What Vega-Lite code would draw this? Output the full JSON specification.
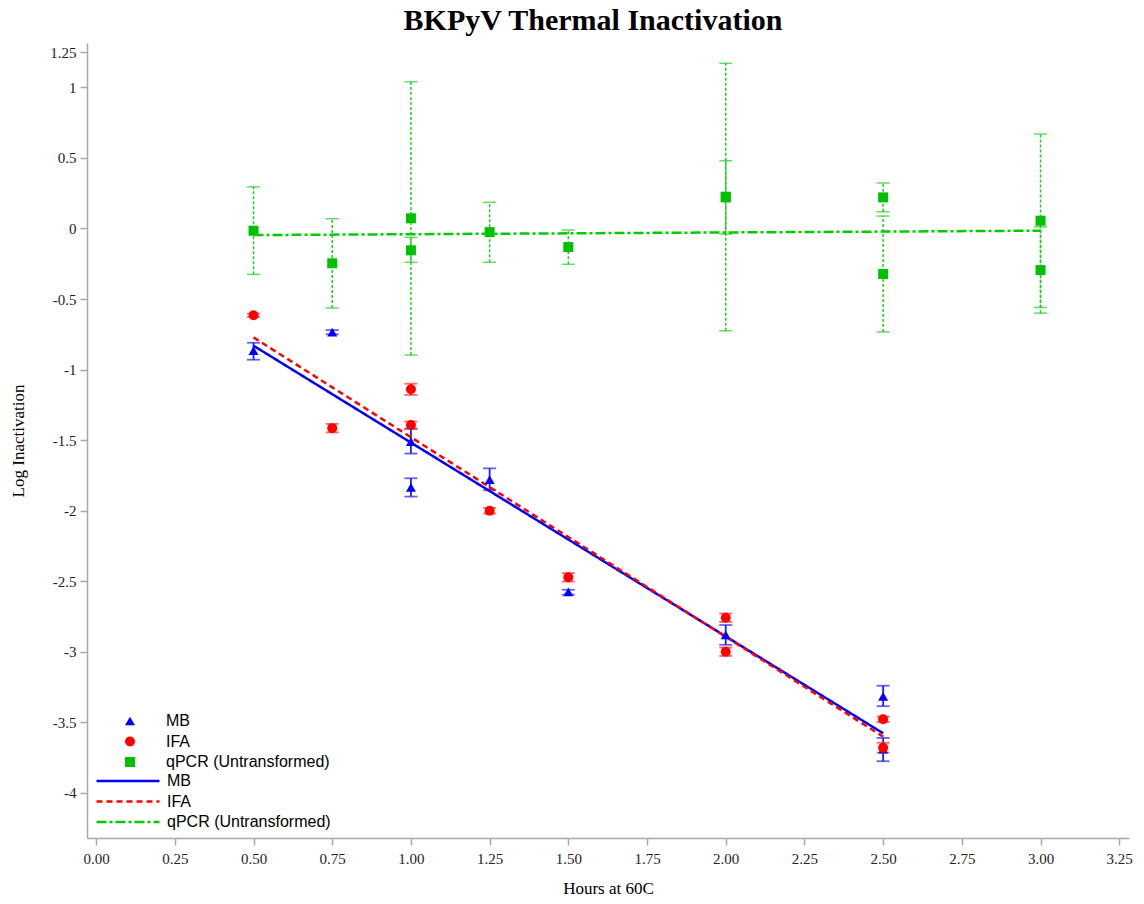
{
  "$schema": "https://vega.github.io/schema/vega-lite/v6.json",
  "width": 1042,
  "height": 795,
  "autosize": {"type": "none"},
  "padding": {"left": 87, "top": 43, "right": 15, "bottom": 66},
  "background": "white",
  "title": {"text": "BKPyV Thermal Inactivation", "font": "Liberation Serif", "fontSize": 30, "fontWeight": "bold", "color": "#000000", "anchor": "middle", "offset": 7, "dx": -15},
  "config": {
    "view": {"stroke": null},
    "axis": {"grid": false, "domainColor": "#a8a8a8", "domainWidth": 1.5, "tickColor": "#a8a8a8", "tickWidth": 1.5, "tickSize": 7, "labelFont": "Liberation Serif", "labelFontSize": 15, "labelColor": "#222222", "titleFont": "Liberation Serif", "titleFontSize": 17, "titleFontWeight": "normal", "titleColor": "#000000"}
  },
  "datasets": {
    "obs": [
      {"series": "MB", "x": 0.5, "y": -0.866, "lo": -0.93, "hi": -0.81},
      {"series": "MB", "x": 0.75, "y": -0.735, "lo": -0.75, "hi": -0.72},
      {"series": "MB", "x": 1.0, "y": -1.51, "lo": -1.595, "hi": -1.42},
      {"series": "MB", "x": 1.0, "y": -1.835, "lo": -1.9, "hi": -1.77},
      {"series": "MB", "x": 1.25, "y": -1.78, "lo": -1.855, "hi": -1.7},
      {"series": "MB", "x": 1.5, "y": -2.575, "lo": -2.595, "hi": -2.56},
      {"series": "MB", "x": 2.0, "y": -2.88, "lo": -2.95, "hi": -2.81},
      {"series": "MB", "x": 2.5, "y": -3.315, "lo": -3.385, "hi": -3.24},
      {"series": "MB", "x": 2.5, "y": -3.69, "lo": -3.775, "hi": -3.61},
      {"series": "IFA", "x": 0.5, "y": -0.615, "lo": -0.627, "hi": -0.603},
      {"series": "IFA", "x": 0.75, "y": -1.415, "lo": -1.445, "hi": -1.385},
      {"series": "IFA", "x": 1.0, "y": -1.14, "lo": -1.18, "hi": -1.1},
      {"series": "IFA", "x": 1.0, "y": -1.393, "lo": -1.418, "hi": -1.368},
      {"series": "IFA", "x": 1.25, "y": -2.0, "lo": -2.02, "hi": -1.98},
      {"series": "IFA", "x": 1.5, "y": -2.472, "lo": -2.502, "hi": -2.442},
      {"series": "IFA", "x": 2.0, "y": -2.758, "lo": -2.788, "hi": -2.728},
      {"series": "IFA", "x": 2.0, "y": -2.999, "lo": -3.029, "hi": -2.969},
      {"series": "IFA", "x": 2.5, "y": -3.478, "lo": -3.498, "hi": -3.458},
      {"series": "IFA", "x": 2.5, "y": -3.679, "lo": -3.714, "hi": -3.644},
      {"series": "qPCR (Untransformed)", "x": 0.5, "y": -0.016, "lo": -0.325, "hi": 0.295},
      {"series": "qPCR (Untransformed)", "x": 0.75, "y": -0.247, "lo": -0.564, "hi": 0.069},
      {"series": "qPCR (Untransformed)", "x": 1.0, "y": 0.072, "lo": -0.897, "hi": 1.04},
      {"series": "qPCR (Untransformed)", "x": 1.0, "y": -0.155, "lo": -0.24, "hi": -0.063},
      {"series": "qPCR (Untransformed)", "x": 1.25, "y": -0.026, "lo": -0.24, "hi": 0.185},
      {"series": "qPCR (Untransformed)", "x": 1.5, "y": -0.132, "lo": -0.254, "hi": -0.011},
      {"series": "qPCR (Untransformed)", "x": 2.0, "y": 0.225, "lo": -0.725, "hi": 1.17},
      {"series": "qPCR (Untransformed)", "x": 2.0, "y": 0.22, "lo": -0.04, "hi": 0.48},
      {"series": "qPCR (Untransformed)", "x": 2.5, "y": 0.22, "lo": 0.118, "hi": 0.322},
      {"series": "qPCR (Untransformed)", "x": 2.5, "y": -0.323, "lo": -0.733, "hi": 0.088},
      {"series": "qPCR (Untransformed)", "x": 3.0, "y": 0.055, "lo": -0.56, "hi": 0.669},
      {"series": "qPCR (Untransformed)", "x": 3.0, "y": -0.295, "lo": -0.6, "hi": 0.012}
    ],
    "fits": [
      {"series": "MB", "x": 0.5, "y": -0.831},
      {"series": "MB", "x": 2.5, "y": -3.577},
      {"series": "IFA", "x": 0.5, "y": -0.772},
      {"series": "IFA", "x": 2.5, "y": -3.601},
      {"series": "qPCR (Untransformed)", "x": 0.5, "y": -0.047},
      {"series": "qPCR (Untransformed)", "x": 3.0, "y": -0.016}
    ]
  },
  "encoding": {
    "x": {"field": "x", "type": "quantitative", "title": "Hours at 60C",
      "scale": {"domain": [-0.029, 3.281], "nice": false, "zero": false},
      "axis": {"values": [0, 0.25, 0.5, 0.75, 1, 1.25, 1.5, 1.75, 2, 2.25, 2.5, 2.75, 3, 3.25], "format": ".2f", "labelPadding": 6, "titlePadding": 14}},
    "y": {"field": "y", "type": "quantitative", "title": "Log Inactivation",
      "scale": {"domain": [-4.319, 1.314], "nice": false, "zero": false},
      "axis": {"values": [-4, -3.5, -3, -2.5, -2, -1.5, -1, -0.5, 0, 0.5, 1, 1.25], "labelExpr": "replace(format(datum.value, '~g'), '\u2212', '-')", "labelPadding": 4, "titlePadding": 22}}
  },
  "layer": [
    {
      "data": {"name": "obs"},
      "transform": [{"filter": "datum.series === 'qPCR (Untransformed)'"}],
      "mark": {"type": "errorbar", "color": "#22cc22", "ticks": {"size": 13, "thickness": 1.5, "color": "#22cc22"}, "rule": {"strokeDash": [3, 2], "strokeWidth": 1.5, "color": "#22cc22"}},
      "encoding": {"y": {"field": "lo", "type": "quantitative"}, "y2": {"field": "hi"}}
    },
    {
      "data": {"name": "obs"},
      "transform": [{"filter": "datum.series === 'MB'"}],
      "mark": {"type": "errorbar", "color": "#1f1fff", "ticks": {"size": 13, "thickness": 1.8, "color": "#1f1fff"}, "rule": {"strokeWidth": 1.8, "color": "#1f1fff"}},
      "encoding": {"y": {"field": "lo", "type": "quantitative"}, "y2": {"field": "hi"}}
    },
    {
      "data": {"name": "obs"},
      "transform": [{"filter": "datum.series === 'IFA'"}],
      "mark": {"type": "errorbar", "color": "#ff2a2a", "ticks": {"size": 13, "thickness": 1.8, "color": "#ff2a2a"}, "rule": {"strokeWidth": 1.8, "color": "#ff2a2a"}},
      "encoding": {"y": {"field": "lo", "type": "quantitative"}, "y2": {"field": "hi"}}
    },
    {
      "data": {"name": "fits"},
      "mark": {"type": "line", "strokeWidth": 2.5},
      "encoding": {
        "color": {"field": "series", "type": "nominal",
          "scale": {"domain": ["MB", "IFA", "qPCR (Untransformed)"], "range": ["#0000ff", "#ff0000", "#00cc00"]},
          "legend": {"orient": "none", "legendX": 8, "legendY": 730, "title": null, "padding": 0, "labelFont": "Liberation Sans", "labelFontSize": 16, "labelColor": "#000000", "labelLimit": 0, "symbolSize": 3969, "symbolStrokeWidth": 2.5, "clipHeight": 16, "rowPadding": 4.5, "labelOffset": 6}},
        "strokeDash": {"field": "series", "type": "nominal",
          "scale": {"domain": ["MB", "IFA", "qPCR (Untransformed)"], "range": [[1, 0], [6, 4], [10, 3, 3, 3]]},
          "legend": {"orient": "none", "legendX": 8, "legendY": 730, "title": null, "padding": 0, "labelFont": "Liberation Sans", "labelFontSize": 16, "labelColor": "#000000", "labelLimit": 0, "symbolSize": 3969, "symbolStrokeWidth": 2.5, "clipHeight": 16, "rowPadding": 4.5, "labelOffset": 6}}
      }
    },
    {
      "data": {"name": "obs"},
      "mark": {"type": "point", "filled": true, "opacity": 1, "size": 100},
      "encoding": {
        "color": {"field": "series", "type": "nominal",
          "scale": {"domain": ["MB", "IFA", "qPCR (Untransformed)"], "range": ["#0000ff", "#ff0000", "#00c000"]},
          "legend": {"orient": "none", "legendX": 35, "legendY": 670, "title": null, "padding": 0, "labelFont": "Liberation Sans", "labelFontSize": 16, "labelColor": "#000000", "labelLimit": 0, "symbolSize": 100, "symbolOpacity": 1, "clipHeight": 16, "rowPadding": 4.5, "labelOffset": 28}},
        "shape": {"field": "series", "type": "nominal",
          "scale": {"domain": ["MB", "IFA", "qPCR (Untransformed)"], "range": ["triangle-up", "circle", "square"]},
          "legend": {"orient": "none", "legendX": 35, "legendY": 670, "title": null, "padding": 0, "labelFont": "Liberation Sans", "labelFontSize": 16, "labelColor": "#000000", "labelLimit": 0, "symbolSize": 100, "symbolOpacity": 1, "clipHeight": 16, "rowPadding": 4.5, "labelOffset": 28}}
      }
    }
  ],
  "resolve": {"scale": {"color": "independent", "strokeDash": "independent", "shape": "independent"}}
}
